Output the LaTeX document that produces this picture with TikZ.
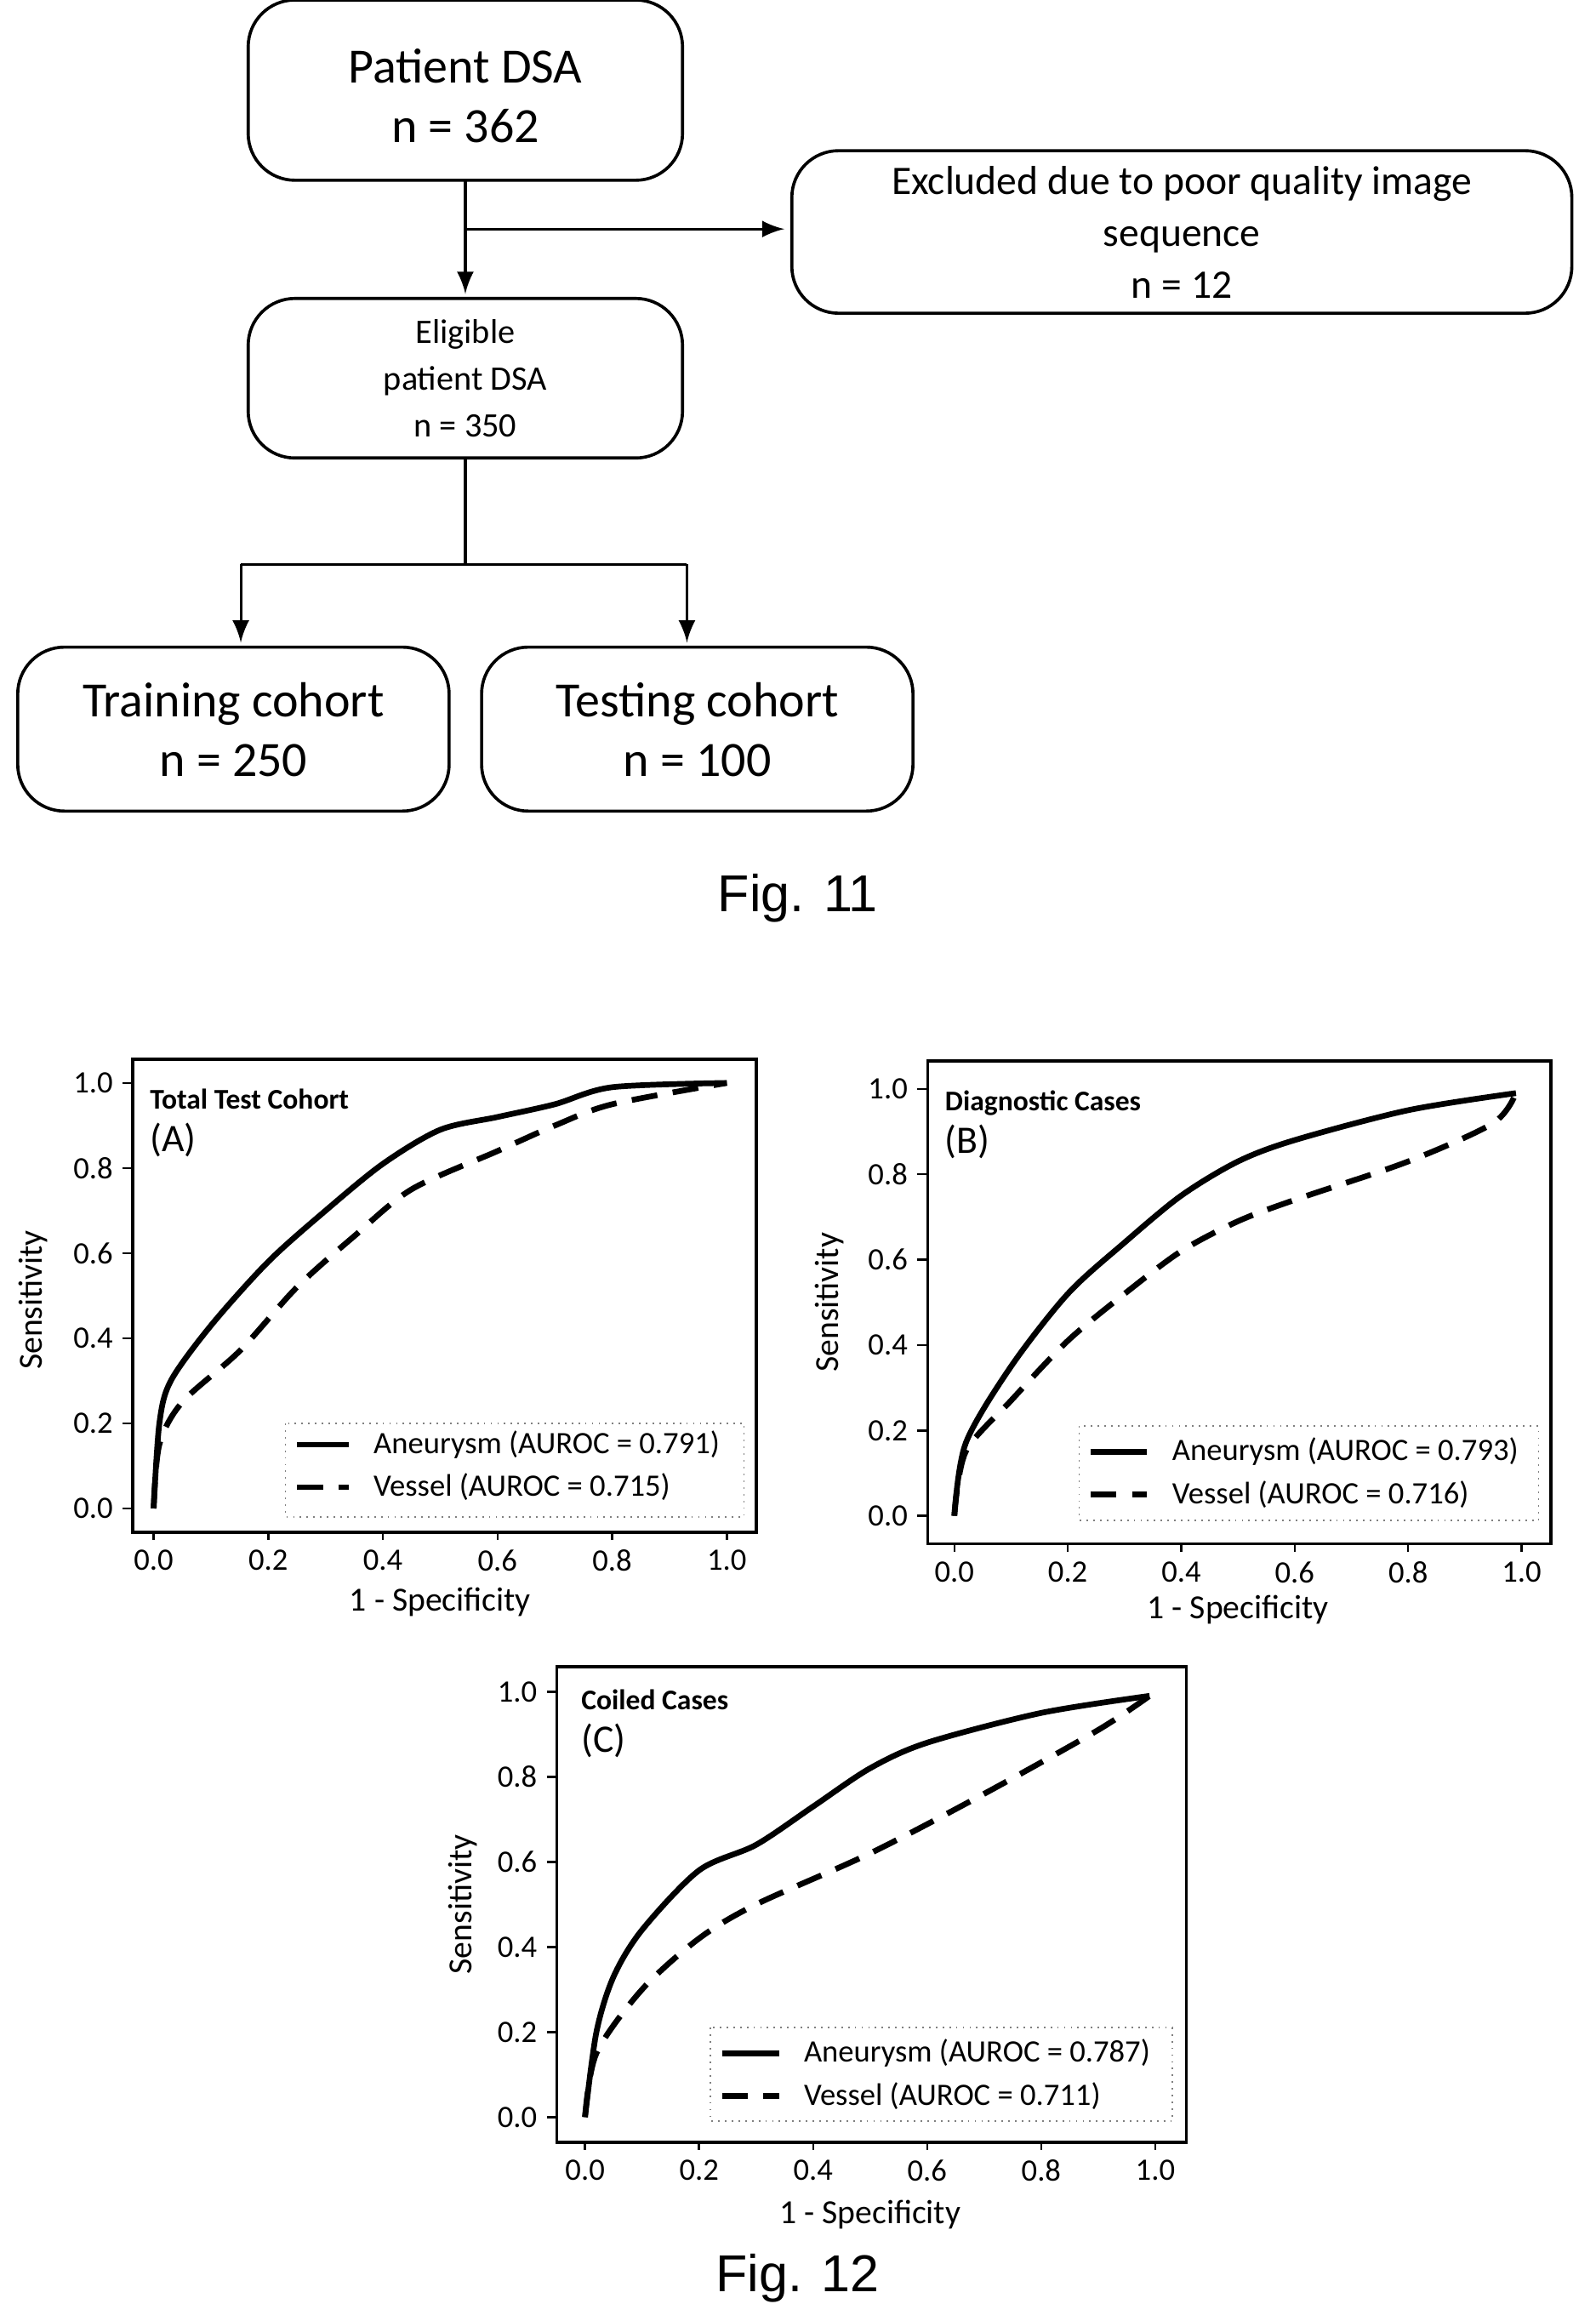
\documentclass[tikz,border=0pt]{standalone}
\usepackage{fontspec}
\setmainfont{Carlito}
\newfontfamily\figfont{Liberation Sans}
\usetikzlibrary{positioning}
\tikzset{
  flowbox/.style={draw=black, rounded corners=9pt, line width=0.6pt},
  flowarrow/.style={-latex, line width=0.5pt},
  curveA/.style={line width=1.1pt, line join=round},
  curveV/.style={line width=1.1pt, dashed, dash pattern=on 5pt off 3pt},
  ticklbl/.style={font=\fontsize{6}{7}\selectfont},
  leglbl/.style={font=\fontsize{6}{7}\selectfont, anchor=west},
  axlbl/.style={font=\fontsize{6.5}{8}\selectfont},
}
% ticks of one ROC panel: #1 frame left, #2 frame bottom (data units)
\newcommand{\rocaxes}[2]{%
  \foreach \t in {0.0,0.2,0.4,0.6,0.8,1.0} {
    \draw[line width=0.4pt] (\t,#2) -- (\t,#2-0.018);
    \node[ticklbl, below, inner sep=1.5pt] at (\t,#2-0.018) {\t};
    \draw[line width=0.4pt] (#1,\t) -- (#1-0.018,\t);
    \node[ticklbl, left, inner sep=1.5pt] at (#1-0.018,\t) {\t};
  }}
\begin{document}
\begin{tikzpicture}[x=0.1mm, y=-0.1mm, auto, thick]
\useasboundingbox (0,0) rectangle (1080,1571);

% Fig. 11 flow chart
\draw[flowbox] (168,0) rectangle (462,122);
\node (patient) at (315,65) [align=center, font=\fontsize{9.5}{11.5}\selectfont] {Patient DSA\\n = 362};
\draw[flowbox] (536,102) rectangle (1064,212);
\node (excluded) at (800,157) [align=center, font=\fontsize{7.8}{10}\selectfont] {Excluded due to poor quality image\\sequence\\n = 12};
\draw[flowbox] (168,202) rectangle (462,310);
\node (eligible) at (315,256) [align=center, font=\fontsize{6.6}{9}\selectfont] {Eligible\\patient DSA\\n = 350};
\draw[flowbox] (12,438) rectangle (304,549);
\node (training) at (158,494) [align=center, font=\fontsize{9.5}{11.5}\selectfont] {Training cohort\\n = 250};
\draw[flowbox] (326,438) rectangle (618,549);
\node (testing) at (472,494) [align=center, font=\fontsize{9.5}{11.5}\selectfont] {Testing cohort\\n = 100};

\coordinate (split) at (315,155);
\coordinate (fork) at (315,382);
\draw[line width=0.5pt] (315,122) -- (split);
\draw[flowarrow] (split) -- (315,199);
\draw[flowarrow] (split) -- (531,155);
\draw[line width=0.5pt] (315,310) -- (fork);
\draw[flowarrow] (163,382) -- (163,435);
\draw[flowarrow] (465,382) -- (465,435);
\draw[line width=0.5pt] (163,382) -- (465,382);

\node (fig11) at (540,608) {\figfont\fontsize{10}{12}\selectfont Fig. 11};

% Fig. 12 panel A
\draw[line width=0.6pt] (90,717) rectangle (512,1037);
\begin{scope}[shift={(104,1021)}, x=38.8mm, y=28.8mm]
  \rocaxes{-0.036}{-0.056}
  \draw[curveA] plot[smooth, tension=0.5] coordinates {(0,0) (0.01,0.2) (0.03,0.3) (0.1,0.43) (0.2,0.58) (0.3,0.7) (0.4,0.81) (0.5,0.89) (0.6,0.92) (0.7,0.95) (0.8,0.99) (1,1)};
  \draw[curveV] plot[smooth, tension=0.5] coordinates {(0,0) (0.01,0.15) (0.05,0.25) (0.15,0.37) (0.25,0.52) (0.35,0.64) (0.45,0.75) (0.6,0.84) (0.7,0.9) (0.8,0.95) (1,1)};
  \node[anchor=north west, font=\bfseries\fontsize{5.5}{7}\selectfont, inner sep=0pt] (titleA) at (-0.01,0.99) {Total Test Cohort};
  \node[anchor=north west, font=\fontsize{7.5}{9}\selectfont, inner sep=0pt] (tagA) at (-0.01,0.91) {(A)};
  \draw[densely dotted, line width=0.3pt, gray] (0.23,0.2) rectangle (1.03,-0.02);
  \draw[curveA] (0.25,0.15) -- (0.34,0.15);
  \draw[curveV] (0.25,0.05) -- (0.34,0.05);
  \node[leglbl] (legA1) at (0.35,0.15) {Aneurysm (AUROC = 0.791)};
  \node[leglbl] (legA2) at (0.35,0.05) {Vessel (AUROC = 0.715)};
  \node[axlbl] (xlabA) at (0.5,-0.22) {1 - Specificity};
  \node[axlbl, rotate=90] (ylabA) at (-0.21,0.49) {Sensitivity};
\end{scope}

% Fig. 12 panel B
\draw[line width=0.6pt] (628,718) rectangle (1050,1045);
\begin{scope}[shift={(646,1026)}, x=38.4mm, y=28.9mm]
  \rocaxes{-0.047}{-0.066}
  \draw[curveA] plot[smooth, tension=0.5] coordinates {(0,0) (0.02,0.17) (0.1,0.35) (0.2,0.52) (0.3,0.64) (0.4,0.75) (0.5,0.83) (0.6,0.88) (0.8,0.95) (0.99,0.99)};
  \draw[curveV] plot[smooth, tension=0.5] coordinates {(0,0) (0.02,0.15) (0.1,0.27) (0.2,0.41) (0.3,0.52) (0.4,0.62) (0.5,0.69) (0.6,0.74) (0.8,0.83) (0.95,0.92) (0.99,0.99)};
  \node[anchor=north west, font=\bfseries\fontsize{5.5}{7}\selectfont, inner sep=0pt] (titleB) at (-0.02,1.0) {Diagnostic Cases};
  \node[anchor=north west, font=\fontsize{7.5}{9}\selectfont, inner sep=0pt] (tagB) at (-0.02,0.92) {(B)};
  \draw[densely dotted, line width=0.3pt, gray] (0.22,0.21) rectangle (1.03,-0.01);
  \draw[curveA] (0.24,0.15) -- (0.34,0.15);
  \draw[curveV] (0.24,0.05) -- (0.34,0.05);
  \node[leglbl] (legB1) at (0.35,0.15) {Aneurysm (AUROC = 0.793)};
  \node[leglbl] (legB2) at (0.35,0.05) {Vessel (AUROC = 0.716)};
  \node[axlbl] (xlabB) at (0.5,-0.22) {1 - Specificity};
  \node[axlbl, rotate=90] (ylabB) at (-0.22,0.5) {Sensitivity};
\end{scope}

% Fig. 12 panel C
\draw[line width=0.6pt] (377,1128) rectangle (803,1450);
\begin{scope}[shift={(396,1433)}, x=38.6mm, y=28.8mm]
  \rocaxes{-0.049}{-0.059}
  \draw[curveA] plot[smooth, tension=0.5] coordinates {(0,0) (0.02,0.2) (0.05,0.33) (0.1,0.44) (0.2,0.58) (0.3,0.64) (0.4,0.73) (0.5,0.82) (0.6,0.88) (0.8,0.95) (0.99,0.99)};
  \draw[curveV] plot[smooth, tension=0.5] coordinates {(0,0) (0.02,0.15) (0.1,0.3) (0.2,0.42) (0.3,0.5) (0.5,0.62) (0.7,0.76) (0.9,0.91) (0.99,0.99)};
  \node[anchor=north west, font=\bfseries\fontsize{5.5}{7}\selectfont, inner sep=0pt] (titleC) at (-0.01,1.01) {Coiled Cases};
  \node[anchor=north west, font=\fontsize{7.5}{9}\selectfont, inner sep=0pt] (tagC) at (-0.01,0.93) {(C)};
  \draw[densely dotted, line width=0.3pt, gray] (0.22,0.21) rectangle (1.03,-0.01);
  \draw[curveA] (0.24,0.15) -- (0.34,0.15);
  \draw[curveV] (0.24,0.05) -- (0.34,0.05);
  \node[leglbl] (legC1) at (0.35,0.15) {Aneurysm (AUROC = 0.787)};
  \node[leglbl] (legC2) at (0.35,0.05) {Vessel (AUROC = 0.711)};
  \node[axlbl] (xlabC) at (0.5,-0.23) {1 - Specificity};
  \node[axlbl, rotate=90] (ylabC) at (-0.215,0.5) {Sensitivity};
\end{scope}

\node (fig12) at (540,1542) {\figfont\fontsize{10}{12}\selectfont Fig. 12};
\end{tikzpicture}
\end{document}
